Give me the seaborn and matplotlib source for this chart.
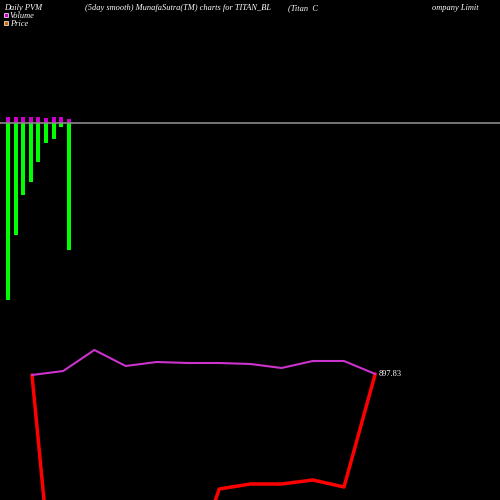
import matplotlib
matplotlib.use("Agg")
import matplotlib.pyplot as plt
import seaborn as sns
import pandas as pd

# volume bars (below line = green, above = magenta), in pixel-like units
vol_down = [177, 112, 72, 59, 39, 20, 16, 4, 127]
vol_up = [6, 6, 6, 6, 6, 5, 6, 6, 4]
# price series
price_red = [125, -200, -250, -250, -200, -80, 11, 16, 16, 20, 13, 126]
price_mag = [125, 129, 150, 134, 138, 137, 137, 136, 132, 139, 139, 126]
last_label = "897.83"

sns.set_style("dark")
fig = plt.figure(figsize=(5, 5), dpi=100, facecolor="black")
ax = fig.add_axes([0, 0, 1, 1])
ax.set_facecolor("black")

n = len(vol_down)
dfv = pd.DataFrame({"i": range(n), "down": [-v for v in vol_down], "up": vol_up})
sns.barplot(data=dfv, x="i", y="down", color="#00ff00", saturation=1, width=0.55,
            linewidth=0, ax=ax, native_scale=True)
sns.barplot(data=dfv, x="i", y="up", color="#cc00cc", saturation=1, width=0.55,
            linewidth=0, ax=ax, native_scale=True)
ax.axhline(0, color="#888888", lw=1.2)
ax.set_xlim(-8 / 7.6, (500 - 8) / 7.6)
ax.set_ylim(-377, 123)
ax.axis("off")

ax2 = fig.add_axes([0, 0, 1, 1])
ax2.patch.set_alpha(0)
m = len(price_red)
dfp = pd.DataFrame({"i": range(m), "red": price_red, "mag": price_mag})
sns.lineplot(data=dfp, x="i", y="red", color="red", lw=2.5, ax=ax2)
sns.lineplot(data=dfp, x="i", y="mag", color="#cc33cc", lw=1.5, ax=ax2)
ax2.set_xlim(-32 / 31.2, (500 - 32) / 31.2)
ax2.set_ylim(0, 500)
ax2.axis("off")
ax2.text(m - 1 + 0.1, price_red[-1], last_label, color="white", fontsize=6,
         family="Liberation Serif", va="center")

tkw = dict(color="white", fontsize=6, family="Liberation Serif", style="italic", va="top")
fig.text(4 / 500, 1 - 4 / 500, "Daily PVM", **tkw)
fig.text(85 / 500, 1 - 4 / 500, "(5day smooth) MunafaSutra(TM) charts for TITAN_BL", **tkw)
fig.text(288 / 500, 1 - 4 / 500, "(Titan  C", **tkw)
fig.text(432 / 500, 1 - 4 / 500, "ompany Limit", **tkw)
fig.text(10 / 500, 1 - 12 / 500, "Volume", **tkw)
fig.text(10 / 500, 1 - 20 / 500, "Price", **tkw)
fig.patches.append(plt.Rectangle((4 / 500, 1 - 17 / 500), 4 / 500, 4 / 500, transform=fig.transFigure,
                                 facecolor="#cc00cc", edgecolor="white", lw=0.5))
fig.patches.append(plt.Rectangle((4 / 500, 1 - 25 / 500), 4 / 500, 4 / 500, transform=fig.transFigure,
                                 facecolor="#cc6600", edgecolor="white", lw=0.5))

fig.savefig("out.png", dpi=100, facecolor="black")
